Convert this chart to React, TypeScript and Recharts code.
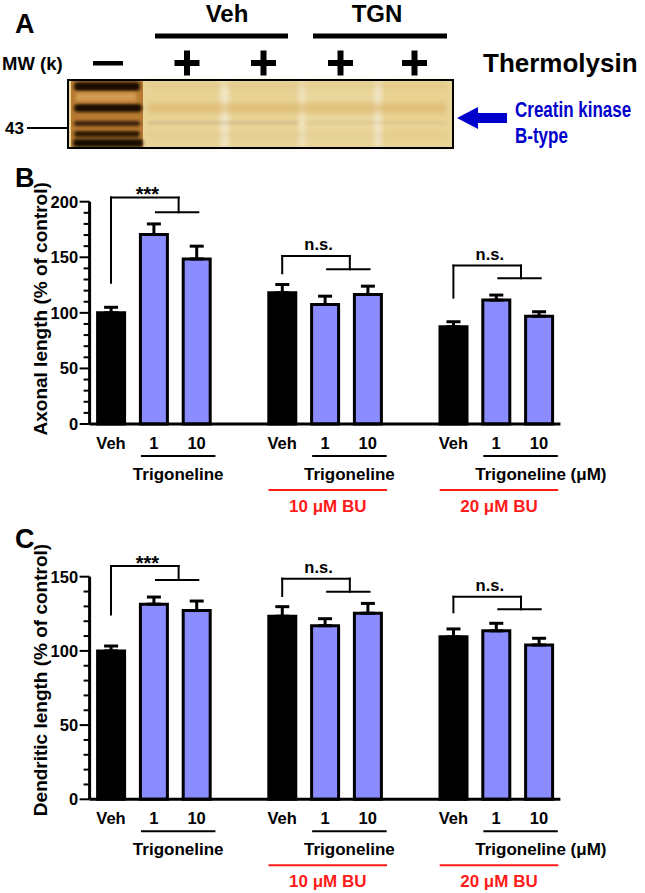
import React from 'react';
import { BarChart, Bar, XAxis, YAxis, ErrorBar, Cell, ReferenceLine, ReferenceDot } from 'recharts';

const FONT = '"Liberation Sans", Arial, sans-serif';
const BLUE_BAR = '#8a8cff';
const RED = '#ff1a1a';

// bar positions on the x axis (empty slots 3 and 7 separate the groups)
const POSITIONS = [0, 1, 2, 4, 5, 6, 8, 9, 10];
const TICK_LABELS = ['Veh', '1', '10', 'Veh', '1', '10', 'Veh', '1', '10'];
const VEHICLE = [true, false, false, true, false, false, true, false, false];

// B: axonal length (% of control)
const AXONAL = [100, 170.5, 148.5, 118, 107.5, 116.5, 87.5, 111.5, 97];
const AXONAL_SEM = [5, 9.5, 11.5, 7.5, 7.5, 7.5, 4.5, 4.5, 4];
const AXONAL_TICKS = [0, 10, 20, 30, 40, 50, 60, 70, 80, 90, 100, 110, 120, 130, 140, 150, 160, 170, 180, 190, 200];

// C: dendritic length (% of control)
const DENDRITIC = [100, 131.5, 127.2, 123.4, 117, 125.4, 109.5, 113.5, 104];
const DENDRITIC_SEM = [3.3, 4.8, 6.4, 6.4, 4.7, 6.6, 5.3, 5.1, 4.5];
const DENDRITIC_TICKS = [0, 10, 20, 30, 40, 50, 60, 70, 80, 90, 100, 110, 120, 130, 140, 150];

// groups
const GROUP_START = [0, 4, 8];
const GROUP_NOTES = ['', '10 \u03bcM BU', '20 \u03bcM BU'];
const GROUP_UNIT = ['', '', '(\u03bcM)'];

// significance brackets (y in data units)
const AXONAL_SIG = ['***', 'n.s.', 'n.s.'];
const AXONAL_BR_FROM = [127, 135.6, 113.7];
const AXONAL_BR_TOP = [203.7, 151.2, 142.5];
const AXONAL_BR_DROP = [190.5, 139.2, 131.1];

const DENDRITIC_SIG = ['***', 'n.s.', 'n.s.'];
const DENDRITIC_BR_FROM = [124.6, 137, 126];
const DENDRITIC_BR_TOP = [157.2, 148.7, 136.5];
const DENDRITIC_BR_DROP = [147.8, 139.9, 128];

const buildRows = (values: number[], sems: number[]) =>
  POSITIONS.map((pos, i) => ({ pos, value: values[i], err: [0, sems[i]] }));

const YTick = (props: any) => {
  const { x, y, payload } = props;
  const major = payload.value % 50 === 0;
  return (
    <g>
      <line x1={x} x2={x - (major ? 10 : 6)} y1={y} y2={y} stroke="#000" strokeWidth={2} />
      {major && (
        <text x={x - 11.5} y={y} dy={6} textAnchor="end" fontSize={16.5} fontWeight="bold" fontFamily={FONT} fill="#000">
          {payload.value}
        </text>
      )}
    </g>
  );
};

const XTick = (props: any) => {
  const { x, y, payload } = props;
  const idx = POSITIONS.indexOf(payload.value);
  return (
    <text x={x} y={y + 25} textAnchor="middle" fontSize={16.5} fontWeight="bold" fontFamily={FONT} fill="#000">
      {TICK_LABELS[idx]}
    </text>
  );
};

type PanelProps = {
  values: number[];
  sems: number[];
  ticks: number[];
  yMax: number;
  sig: string[];
  brFrom: number[];
  brTop: number[];
  brDrop: number[];
  title: string;
  titleShift: number;
  height: number;
  marginTop: number;
  marginBottom: number;
};

const BarPanel: React.FC<PanelProps> = ({ values, sems, ticks, yMax, sig, brFrom, brTop, brDrop, title, titleShift, height, marginTop, marginBottom }) => {
  const rows = buildRows(values, sems);
  const line = { stroke: '#000', strokeWidth: 2, strokeLinecap: 'square' as const, ifOverflow: 'visible' as const };

  const brackets = GROUP_START.map((g, i) => [
    <ReferenceLine key={`bl${i}`} {...line} segment={[{ x: g, y: brFrom[i] }, { x: g, y: brTop[i] }]} />,
    <ReferenceLine key={`bt${i}`} {...line} segment={[{ x: g, y: brTop[i] }, { x: g + 1.58, y: brTop[i] }]} />,
    <ReferenceLine key={`bd${i}`} {...line} segment={[{ x: g + 1.58, y: brTop[i] }, { x: g + 1.58, y: brDrop[i] }]} />,
    <ReferenceLine key={`bh${i}`} {...line} segment={[{ x: g + 1.05, y: brDrop[i] }, { x: g + 2.04, y: brDrop[i] }]} />,
    <ReferenceDot
      key={`bs${i}`}
      x={g + 0.85}
      y={brTop[i]}
      r={0}
      fill="none"
      stroke="none"
      ifOverflow="visible"
      label={(p: any) => {
        const vb = p.viewBox;
        const star = sig[i] === '***';
        return (
          <text x={vb.x} y={vb.y + (star ? 3.5 : -5.5)} textAnchor="middle" fontSize={star ? 20 : 16.5} fontWeight="bold" fontFamily={FONT} fill="#000">
            {sig[i]}
          </text>
        );
      }}
    />,
  ]);

  const groupLabels = GROUP_START.map((g, i) => [
    <ReferenceLine
      key={`gu${i}`}
      segment={[{ x: g + 0.7, y: 0 }, { x: g + 2.44, y: 0 }]}
      stroke="none"
      label={(p: any) => {
        const vb = p.viewBox;
        const cx = vb.x + vb.width / 2;
        return (
          <g>
            <line x1={vb.x} x2={vb.x + vb.width} y1={vb.y + 32} y2={vb.y + 32} stroke="#000" strokeWidth={2} />
            <text x={cx} y={vb.y + 55.5} textAnchor="middle" fontSize={17} fontWeight="bold" fontFamily={FONT} fill="#000">
              Trigoneline
            </text>
            {GROUP_UNIT[i] && (
              <text x={cx + 50} y={vb.y + 55.5} textAnchor="start" fontSize={17} fontWeight="bold" fontFamily={FONT} fill="#000">
                {GROUP_UNIT[i]}
              </text>
            )}
          </g>
        );
      }}
    />,
    GROUP_NOTES[i] ? (
      <ReferenceLine
        key={`gr${i}`}
        segment={[{ x: g - 0.32, y: 0 }, { x: g + 2.45, y: 0 }]}
        stroke="none"
        label={(p: any) => {
          const vb = p.viewBox;
          return (
            <g>
              <line x1={vb.x} x2={vb.x + vb.width} y1={vb.y + 66} y2={vb.y + 66} stroke={RED} strokeWidth={2} />
              <text x={vb.x + vb.width / 2} y={vb.y + 87.5} textAnchor="middle" fontSize={17} fontWeight="bold" fontFamily={FONT} fill={RED}>
                {GROUP_NOTES[i]}
              </text>
            </g>
          );
        }}
      />
    ) : null,
  ]);

  return (
    <BarChart width={645} height={height} data={rows} margin={{ top: marginTop, right: 84.6, bottom: marginBottom, left: 0 }}>
      <XAxis
        dataKey="pos"
        type="number"
        domain={[-0.5, 10.5]}
        ticks={POSITIONS}
        interval={0}
        height={30}
        tickLine={false}
        tickSize={0}
        tickMargin={0}
        axisLine={{ stroke: '#000', strokeWidth: 3 }}
        tick={XTick}
      />
      <YAxis
        type="number"
        domain={[0, yMax]}
        ticks={ticks}
        interval={0}
        width={89.6}
        tickLine={false}
        tickSize={0}
        tickMargin={0}
        axisLine={{ stroke: '#000', strokeWidth: 3 }}
        tick={YTick}
        label={(p: any) => {
          const vb = p.viewBox;
          const cy = vb.y + vb.height / 2 + titleShift;
          return (
            <text
              x={40}
              y={cy}
              dy="0.35em"
              transform={`rotate(-90, 40, ${cy})`}
              textAnchor="middle"
              fontSize={19}
              fontWeight="bold"
              fontFamily={FONT}
              fill="#000"
            >
              {title}
            </text>
          );
        }}
      />
      <Bar dataKey="value" barSize={27} stroke="#000" strokeWidth={3} isAnimationActive={false}>
        {rows.map((r, i) => (
          <Cell key={r.pos} fill={VEHICLE[i] ? '#000' : BLUE_BAR} />
        ))}
        <ErrorBar dataKey="err" direction="y" width={7} stroke="#000" strokeWidth={3} isAnimationActive={false} />
      </Bar>
      {brackets}
      {groupLabels}
    </BarChart>
  );
};

const Plus: React.FC<{ cx: number; cy: number }> = ({ cx, cy }) => (
  <g fill="#000">
    <rect x={cx - 12.5} y={cy - 3} width={25} height={6} />
    <rect x={cx - 3} y={cy - 12.5} width={6} height={25} />
  </g>
);

const GelPanel: React.FC = () => (
  <svg width={645} height={160} style={{ position: 'absolute', left: 0, top: 0 }}>
    <defs>
      <filter id="soft" x="-10%" y="-50%" width="120%" height="200%">
        <feGaussianBlur stdDeviation="1.6" />
      </filter>
      <filter id="soft2" x="-10%" y="-60%" width="120%" height="220%">
        <feGaussianBlur stdDeviation="2.8" />
      </filter>
    </defs>
    <g fontFamily={FONT} fontWeight="bold" fill="#000">
      <text x={15} y={33} fontSize={27}>A</text>
      <text x={227} y={22} fontSize={24} textAnchor="middle">Veh</text>
      <text x={377} y={22} fontSize={24} textAnchor="middle">TGN</text>
      <text x={2} y={70} fontSize={18.5}>MW (k)</text>
      <text x={483} y={72} fontSize={26}>Thermolysin</text>
      <text x={5} y={134} fontSize={17}>43</text>
    </g>
    <rect x={155} y={33.5} width={133} height={5} fill="#000" />
    <rect x={313} y={33.5} width={134} height={5} fill="#000" />
    <rect x={93} y={61} width={30} height={4.5} fill="#000" />
    <Plus cx={187} cy={63} />
    <Plus cx={263.5} cy={63} />
    <Plus cx={340.5} cy={63} />
    <Plus cx={414.5} cy={63} />
    <line x1={27} x2={68} y1={128} y2={128} stroke="#000" strokeWidth={2} />

    {/* gel */}
    <rect x={68} y={80} width={385} height={68} fill="#ead89e" />
    <g filter="url(#soft2)">
      <rect x={143} y={81} width={78} height={66} fill="#e8d394" />
      <rect x={229} y={81} width={70} height={66} fill="#e8d394" />
      <rect x={306} y={81} width={68} height={66} fill="#e9d69a" />
      <rect x={382} y={81} width={69} height={66} fill="#e9d292" />
      <rect x={221} y={81} width={7} height={66} fill="#f3e8cb" />
      <rect x={299} y={81} width={6} height={66} fill="#f1e4c0" />
      <rect x={375} y={81} width={6} height={66} fill="#f3e8cb" />
      <rect x={148} y={103} width={298} height={10} fill="#d8b062" opacity={0.55} />
      <rect x={148} y={83} width={298} height={5} fill="#dcbf7c" opacity={0.45} />
      <rect x={148} y={133} width={298} height={4} fill="#d8bf88" opacity={0.4} />
    </g>
    <g filter="url(#soft)">
      <rect x={148} y={121.5} width={150} height={2.5} fill="#a39277" opacity={0.4} />
      <rect x={306} y={121.5} width={140} height={2.5} fill="#b0a07f" opacity={0.25} />
    </g>
    <rect x={71} y={81} width={72} height={66} fill="#b77a30" />
    <g filter="url(#soft)">
      <rect x={74} y={82} width={66} height={9} rx={4} fill="#1f0f04" />
      <rect x={74} y={104} width={68} height={8} rx={4} fill="#1c0d03" />
      <rect x={74} y={121} width={66} height={5} rx={2} fill="#3a1f08" />
      <rect x={74} y={131} width={66} height={6} rx={3} fill="#2a1505" />
      <rect x={73} y={139} width={70} height={8} rx={4} fill="#120802" />
      <rect x={76} y={93} width={60} height={8} fill="#d9a45a" opacity={0.8} />
    </g>
    <rect x={68} y={80} width={385} height={68} fill="none" stroke="#000" strokeWidth={2} />

    {/* arrow */}
    <polygon points="457,118 478,107 478,129" fill="#0000cc" />
    <rect x={477} y={113} width={30} height={10} fill="#0000cc" />
    <g fontFamily={FONT} fontWeight="bold" fill="#0000cc" fontSize={17}>
      <text x={0} y={0} transform="translate(515,117) scale(1,1.25)">Creatin kinase</text>
      <text x={0} y={0} transform="translate(515,143) scale(1,1.25)">B-type</text>
    </g>
  </svg>
);

const PanelLetter: React.FC<{ letter: string; top: number }> = ({ letter, top }) => (
  <svg width={50} height={40} style={{ position: 'absolute', left: 0, top }}>
    <text x={15} y={27} fontSize={27} fontWeight="bold" fontFamily={FONT} fill="#000">
      {letter}
    </text>
  </svg>
);

export default function App() {
  return (
    <div style={{ position: 'absolute', left: 0, top: 0, width: 645, height: 893, background: '#fff', overflow: 'hidden' }}>
      <GelPanel />
      <div style={{ position: 'absolute', left: 0, top: 160 }}>
        <BarPanel
          values={AXONAL}
          sems={AXONAL_SEM}
          ticks={AXONAL_TICKS}
          yMax={200}
          sig={AXONAL_SIG}
          brFrom={AXONAL_BR_FROM}
          brTop={AXONAL_BR_TOP}
          brDrop={AXONAL_BR_DROP}
          title="Axonal length (% of control)"
          titleShift={-4}
          height={370}
          marginTop={41.7}
          marginBottom={76}
        />
      </div>
      <div style={{ position: 'absolute', left: 0, top: 520 }}>
        <BarPanel
          values={DENDRITIC}
          sems={DENDRITIC_SEM}
          ticks={DENDRITIC_TICKS}
          yMax={150}
          sig={DENDRITIC_SIG}
          brFrom={DENDRITIC_BR_FROM}
          brTop={DENDRITIC_BR_TOP}
          brDrop={DENDRITIC_BR_DROP}
          title="Dendritic length (% of control)"
          titleShift={-8}
          height={373}
          marginTop={56.7}
          marginBottom={63.7}
        />
      </div>
      <PanelLetter letter="B" top={160} />
      <PanelLetter letter="C" top={521} />
    </div>
  );
}
